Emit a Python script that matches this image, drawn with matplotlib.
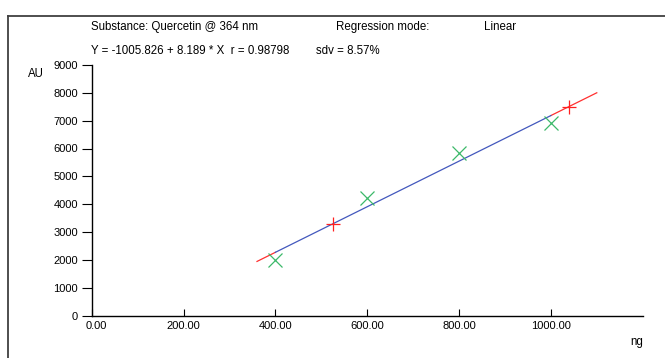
import matplotlib
matplotlib.use('Agg')
import matplotlib.pyplot as plt
import matplotlib.transforms as mtransforms
from matplotlib.lines import Line2D

plt.rcParams['font.family'] = ['Liberation Sans', 'DejaVu Sans']

# calibration data (green crosses)
std_x = [400, 600, 800, 1000]
std_y = [1980, 4230, 5830, 6900]

# extra red points
red_x = [525, 1040]
red_y = [3290, 7500]

# regression line
intercept = -1005.826
slope = 8.189
fit_range = [400, 1000]
ext_low = [360, 400]
ext_high = [1000, 1100]

xticks = [0, 200, 400, 600, 800, 1000]
yticks = [0, 1000, 2000, 3000, 4000, 5000, 6000, 7000, 8000, 9000]

W, H = 665, 358
fig = plt.figure(figsize=(W / 100, H / 100), dpi=100)
ax = fig.add_axes([91.7 / W, 1 - 315.5 / H, (642.7 - 91.7) / W, (315.5 - 65) / H])

def line_y(xs):
    return [intercept + slope * x for x in xs]

ax.plot(ext_low, line_y(ext_low), color='#ff3030', lw=0.9)
ax.plot(ext_high, line_y(ext_high), color='#ff3030', lw=0.9)
ax.plot(fit_range, line_y(fit_range), color='#4358bd', lw=0.9)

ax.plot(std_x, std_y, 'x', color='#3cb96a', ms=10, mew=0.9)
ax.plot(red_x, red_y, '+', color='#ff2020', ms=10, mew=0.9)

ax.set_xlim(0, 1200)
ax.set_ylim(0, 9000)
ax.set_xticks(xticks)
ax.set_xticklabels([f'{v:.2f}' for v in xticks])
ax.set_yticks(yticks)
ax.set_yticklabels([str(v) for v in yticks])

for s in ['top', 'right']:
    ax.spines[s].set_visible(False)
for s in ['left', 'bottom']:
    ax.spines[s].set_linewidth(1.0)
    ax.spines[s].set_color('black')

ax.tick_params(axis='y', direction='out', length=7, width=0.8, pad=3, labelsize=8)
ax.tick_params(axis='x', direction='in', length=5, width=0.8, pad=4, labelsize=8)

# first x label sits a bit right of its tick
first = ax.get_xticklabels()[0]
first.set_transform(first.get_transform() +
                    mtransforms.ScaledTranslation(5 / 100, 0, fig.dpi_scale_trans))

# header texts
fs = 8.3
fig.text(91 / W, 1 - 27 / H, 'Substance: Quercetin @ 364 nm', fontsize=fs, va='center')
fig.text(336 / W, 1 - 27 / H, 'Regression mode:', fontsize=fs, va='center')
fig.text(484 / W, 1 - 27 / H, 'Linear', fontsize=fs, va='center')
fig.text(91 / W, 1 - 51 / H, 'Y = -1005.826 + 8.189 * X  r = 0.98798', fontsize=fs, va='center')
fig.text(316 / W, 1 - 51 / H, 'sdv = 8.57%', fontsize=fs, va='center')

fig.text(36 / W, 1 - 74 / H, 'AU', fontsize=fs, va='center', ha='center')
fig.text(637 / W, 1 - 342 / H, 'ng', fontsize=fs, va='center', ha='center')

# outer frame
fig.add_artist(Line2D([8 / W, 8 / W], [0, 1 - 16 / H], color='#404040', lw=1.3,
                      transform=fig.transFigure))
fig.add_artist(Line2D([8 / W, 1], [1 - 16 / H, 1 - 16 / H], color='#404040', lw=1.3,
                      transform=fig.transFigure))

fig.savefig('out.png', dpi=100)
